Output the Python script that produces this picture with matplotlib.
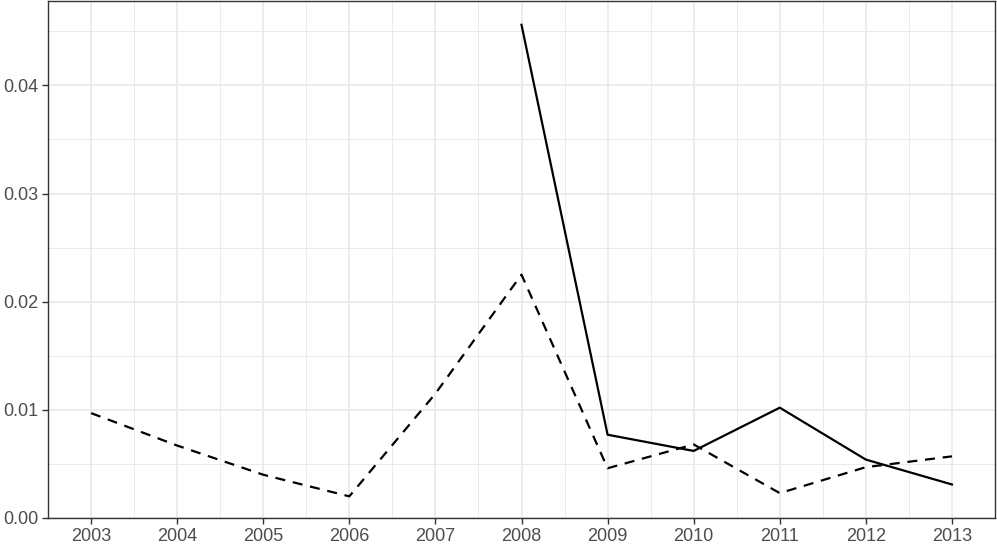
import numpy as np
import matplotlib
matplotlib.use('Agg')
from matplotlib import pyplot as plt
from matplotlib.ticker import MultipleLocator

# data
years = np.arange(2003, 2014)
dashed_vals = [0.0097, 0.0067, 0.0040, 0.0020, 0.0115, 0.0225,
               0.0046, 0.0068, 0.0023, 0.0047, 0.0057]
solid_years = np.arange(2008, 2014)
solid_vals = [0.0456, 0.0077, 0.0062, 0.0102, 0.0054, 0.0031]

plt.rcParams['font.family'] = ['Liberation Sans', 'DejaVu Sans']

fig = plt.figure(figsize=(9.97, 5.45), dpi=100)
ax = fig.add_axes([48 / 997, (545 - 518) / 545, (995 - 48) / 997, (518 - 1) / 545])

ax.plot(years, dashed_vals, color='black', lw=1.6, linestyle=(0, (4.5, 3.5)))
ax.plot(solid_years, solid_vals, color='black', lw=1.6)

ax.set_xlim(2002.5, 2013.5)
ax.set_ylim(0, 0.0478)
ax.set_xticks(years)
ax.xaxis.set_minor_locator(MultipleLocator(0.5))
ax.yaxis.set_major_locator(MultipleLocator(0.01))
ax.yaxis.set_minor_locator(MultipleLocator(0.005))
ax.set_yticklabels(['%.2f' % v for v in ax.get_yticks()])

ax.grid(which='major', color='#EBEBEB', lw=1.3)
ax.grid(which='minor', color='#EBEBEB', lw=0.7)
ax.set_axisbelow(True)

for s in ax.spines.values():
    s.set_color('#333333')
    s.set_linewidth(1.0)
ax.tick_params(which='major', length=4, width=1.0, color='#333333',
               labelcolor='#4D4D4D', labelsize=13, pad=3)
ax.tick_params(which='minor', length=0)

plt.savefig('out.png', dpi=100)
